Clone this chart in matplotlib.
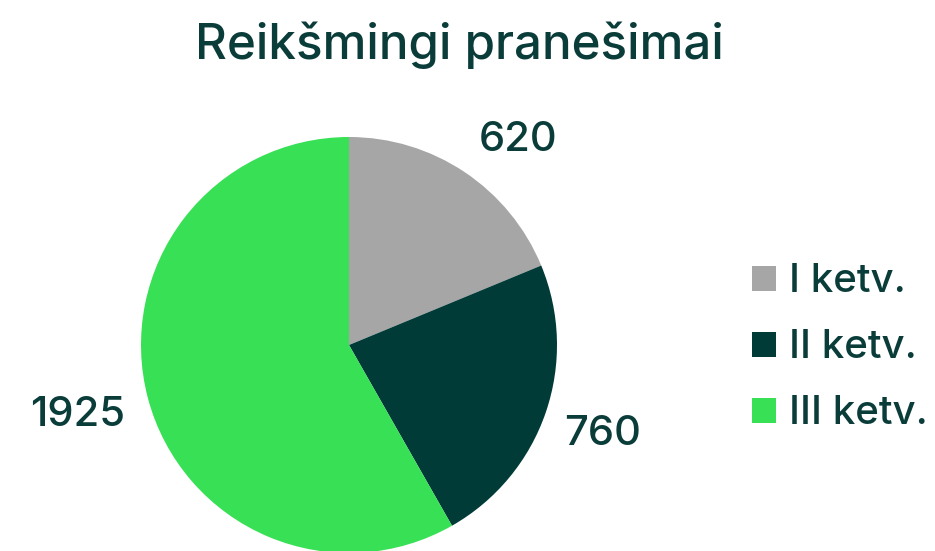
import numpy as np
import matplotlib.pyplot as plt
from matplotlib.patches import Patch

# data
categories = ["I ketv.", "II ketv.", "III ketv."]
values = [620, 760, 1925]
colors = ["#a6a6a6", "#003b38", "#37e055"]
title = "Reikšmingi pranešimai"

TEXT = "#0a3d39"
W, H = 935, 551

plt.rcParams["font.family"] = ["Inter", "DejaVu Sans"]
plt.rcParams["font.weight"] = 500

fig = plt.figure(figsize=(W / 100, H / 100), dpi=100)

# pie placement in pixels: centre (349, 345), radius 208
cx, cy, r = 349, 345, 208
ax = fig.add_axes([(cx - r) / W, (H - cy - r) / H, 2 * r / W, 2 * r / H])

wedges, texts = ax.pie(
    values, colors=colors, startangle=90, counterclock=False,
    labels=[str(v) for v in values], labeldistance=1.29,
    textprops=dict(color=TEXT, fontsize=30, ha="center", va="center"),
    wedgeprops=dict(linewidth=0),
)
ax.set_xlim(-1, 1)
ax.set_ylim(-1, 1)
ax.set_aspect("equal")
ax.set_axis_off()

# small nudges to match the reference label placement
texts[0].set_position((169 / r, 205 / r))
texts[1].set_position((254 / r, -89 / r))
texts[2].set_position((-271 / r, -70 / r))

fig.text(459 / W, 1 - 45 / H, title, ha="center", va="center",
         fontsize=35.5, color=TEXT)

handles = [Patch(facecolor=c, edgecolor="none") for c in colors]
fig.legend(handles, categories, loc="center left",
           bbox_to_anchor=(752 / W, 1 - 348 / H), frameon=False,
           fontsize=29, labelcolor=TEXT, handlelength=0.6, handleheight=0.6,
           handletextpad=0.33, labelspacing=0.72, borderpad=0, borderaxespad=0)

fig.savefig("out.png", dpi=100)
